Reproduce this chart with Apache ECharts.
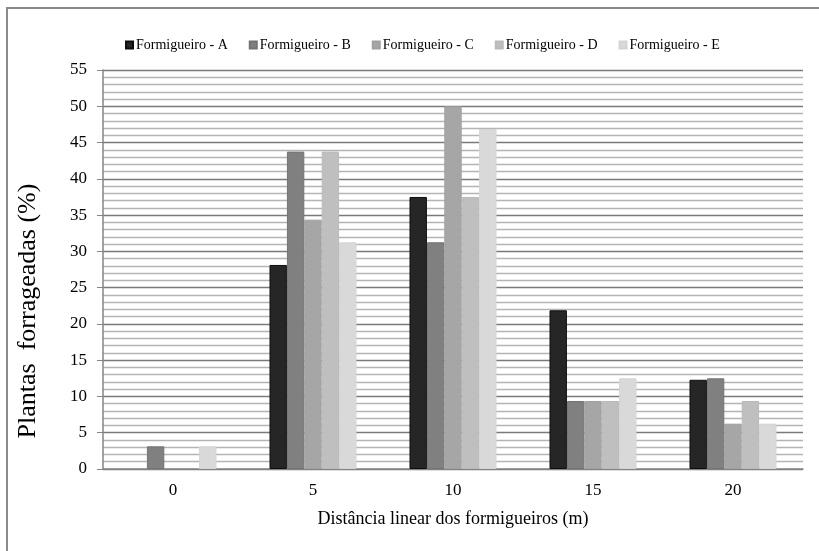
<!DOCTYPE html>
<html><head><meta charset="utf-8">
<script src="https://cdn.jsdelivr.net/npm/echarts@6/dist/echarts.min.js"></script>
<style>html,body{margin:0;padding:0;background:#fff}#c{width:819px;height:551px}</style>
</head><body><div id="c"></div>
<script>
const categories = ['0', '5', '10', '15', '20'];
const seriesNames = ['Formigueiro - A', 'Formigueiro - B', 'Formigueiro - C', 'Formigueiro - D', 'Formigueiro - E'];
const formigueiroA = [0, 28.125, 37.5, 21.875, 12.3];
const formigueiroB = [3.125, 43.75, 31.25, 9.375, 12.5];
const formigueiroC = [0, 34.375, 50, 9.375, 6.25];
const formigueiroD = [0, 43.75, 37.5, 9.375, 9.375];
const formigueiroE = [3.125, 31.25, 46.875, 12.5, 6.25];
const yTicks = [0, 5, 10, 15, 20, 25, 30, 35, 40, 45, 50, 55];
const yTitle = 'Plantas  forrageadas (%)';
const xTitle = 'Distância linear dos formigueiros (m)';

const allData = [formigueiroA, formigueiroB, formigueiroC, formigueiroD, formigueiroE];
const colors = ['#262626', '#808080', '#a6a6a6', '#bfbfbf', '#d9d9d9'];
const borders = ['#0d0d0d', '#737373', '#a0a0a0', '#bababa', '#d4d4d4'];
const font = '"Liberation Serif", "Times New Roman", serif';

const chart = echarts.init(document.getElementById('c'), null, {renderer: 'canvas'});
chart.setOption({
  animation: false,
  backgroundColor: '#fff',
  graphic: [{
    type: 'rect', shape: {x: 7, y: 8, width: 900, height: 900},
    style: {fill: 'none', stroke: '#8a8a8a', lineWidth: 2}, z: 0
  }, {
    type: 'text', x: 28, y: 311, rotation: Math.PI / 2,
    style: {text: yTitle, font: '26px ' + font, fill: '#000', align: 'center', verticalAlign: 'middle'}
  }],
  legend: {
    left: 120, top: 33,
    itemWidth: 7, itemHeight: 7, itemGap: 21,
    icon: 'rect',
    textStyle: {fontFamily: font, fontSize: 14, color: '#000', padding: [0, 0, 0, -2]},
    data: seriesNames
  },
  grid: {left: 103, right: 16, top: 70, bottom: 82, containLabel: false},
  xAxis: {
    type: 'category', data: categories,
    name: xTitle,
    nameLocation: 'middle', nameGap: 41,
    nameTextStyle: {fontFamily: font, fontSize: 18, color: '#000'},
    axisLine: {lineStyle: {color: '#868686', width: 1.5}},
    axisTick: {show: false},
    axisLabel: {fontFamily: font, fontSize: 17, color: '#000', margin: 13}
  },
  yAxis: {
    type: 'value', min: yTicks[0], max: yTicks[yTicks.length - 1], interval: 5,
    axisLine: {show: true, lineStyle: {color: '#868686', width: 1.5}},
    axisTick: {show: true, length: 6, lineStyle: {color: '#868686'}},
    axisLabel: {fontFamily: font, fontSize: 17, color: '#000', margin: 16},
    splitLine: {show: true, lineStyle: {color: '#7a7a7a', width: 1.3}},
    minorTick: {show: false, splitNumber: 5},
    minorSplitLine: {show: true, lineStyle: {color: '#b4b4b4', width: 1.3}}
  },
  series: seriesNames.map((n, i) => ({
    name: n, type: 'bar',
    data: allData[i].map(v => ({value: v, itemStyle: {borderWidth: v === 0 ? 0 : 1}})),
    barWidth: 17.4, barGap: '0%',
    itemStyle: {color: colors[i], borderColor: borders[i], borderWidth: 1}
  }))
});
</script></body></html>
